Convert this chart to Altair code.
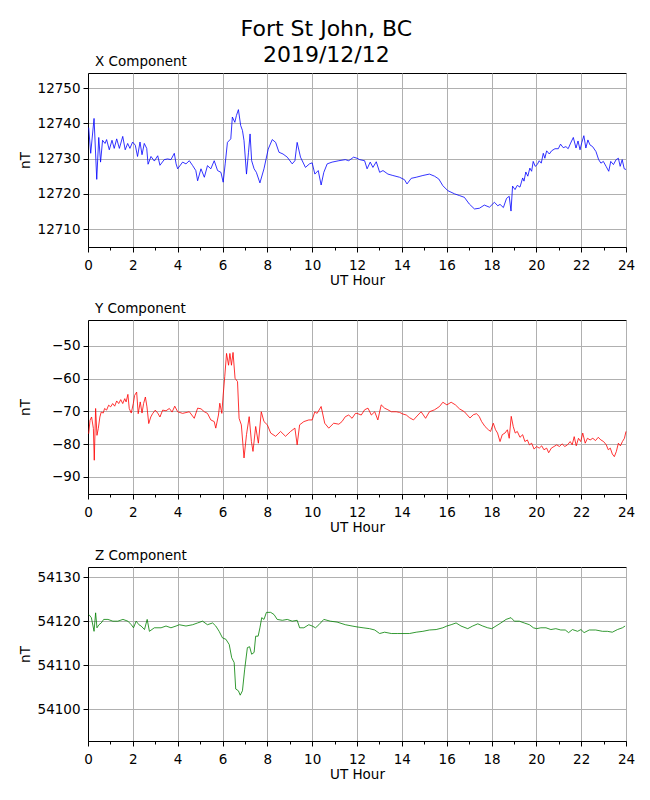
import altair as alt
import pandas as pd

# ---------------- data ----------------
x_hours = [0.03, 0.12, 0.27, 0.39, 0.48, 0.56, 0.65, 0.76, 0.83, 0.95, 1.07, 1.17, 1.28, 1.40, 1.55, 1.66,
           1.77, 1.87, 1.99, 2.11, 2.21, 2.32, 2.41, 2.51, 2.62, 2.68, 2.81, 2.96, 3.11, 3.21, 3.40, 3.55,
           3.70, 3.85, 3.93, 4.00, 4.22, 4.37, 4.52,
           4.67, 4.81, 4.89, 5.04, 5.19, 5.33, 5.48, 5.63, 5.78, 5.93, 6.03, 6.12, 6.22, 6.37, 6.44, 6.55,
           6.62, 6.71, 6.81, 6.89, 6.96, 7.07, 7.16, 7.23, 7.30, 7.41, 7.51, 7.67, 7.85, 8.04, 8.22, 8.37,
           8.52, 8.70, 8.89, 9.11, 9.23, 9.33, 9.48, 9.70, 9.88, 10.00, 10.12, 10.27, 10.40, 10.52, 10.67,
           10.89, 11.19, 11.48, 11.63, 11.85, 12.00, 12.12, 12.34, 12.45, 12.59, 12.71, 12.86, 13.01, 13.16,
           13.38, 13.60, 13.90, 14.12, 14.23, 14.42, 14.64, 14.94, 15.23, 15.46, 15.65, 15.83, 16.05, 16.35,
           16.57, 16.79, 17.01, 17.24, 17.46, 17.68, 17.91, 18.13, 18.28,
           18.38, 18.53, 18.67, 18.79, 18.87, 18.94, 19.05, 19.15, 19.27, 19.39, 19.45, 19.53, 19.62, 19.71,
           19.79, 19.86, 19.95, 20.04, 20.13, 20.22, 20.31, 20.38, 20.46, 20.58, 20.68, 20.83, 20.98, 21.08,
           21.20, 21.32, 21.42, 21.53, 21.65, 21.77, 21.86, 21.95, 22.03, 22.12, 22.21, 22.30, 22.39, 22.51,
           22.66, 22.78, 22.88, 22.99, 23.11, 23.23, 23.32, 23.44, 23.56, 23.66, 23.74, 23.83, 23.92, 24.00]
x_vals = [12738.8, 12731.5, 12741.4, 12724.1, 12736.0, 12729.0, 12735.2, 12734.3, 12735.4, 12732.5, 12735.2,
          12732.9, 12735.6, 12732.9, 12736.3, 12732.5, 12734.3, 12732.9, 12734.7, 12733.8, 12730.6, 12734.7,
          12731.1, 12734.3, 12732.9, 12728.4, 12730.6, 12729.3, 12730.8, 12728.1, 12729.7, 12729.9, 12729.7,
          12731.5, 12728.5, 12727.1, 12729.0, 12728.5, 12729.4,
          12728.0, 12726.6, 12723.7, 12727.1, 12724.7, 12728.0, 12727.1,
          12729.4, 12726.6, 12726.1, 12723.3, 12728.5, 12734.6, 12735.6, 12741.8, 12740.3, 12742.2, 12743.9,
          12739.4, 12738.0, 12735.1, 12725.6, 12731.8, 12737.0, 12729.4, 12727.1, 12726.1, 12723.1, 12727.1,
          12732.7, 12735.4, 12734.6, 12731.8, 12731.3, 12730.4, 12728.5, 12729.4, 12734.6, 12730.4, 12727.5,
          12728.5, 12728.8, 12725.6, 12726.6, 12722.5, 12726.1, 12728.5, 12729.0, 12729.4, 12729.7, 12729.4,
          12730.4, 12730.1, 12729.7, 12729.4, 12727.1, 12729.0, 12727.5, 12729.1, 12726.1, 12726.6, 12725.6,
          12725.2, 12724.7, 12724.0, 12722.8, 12724.4, 12724.7, 12725.2, 12725.6, 12725.0, 12724.2, 12722.3,
          12720.9, 12720.0, 12719.5, 12719.0, 12717.1, 12715.7, 12715.9, 12716.8, 12716.2, 12717.6, 12716.6,
          12717.0, 12716.1, 12718.7, 12719.3, 12715.1, 12722.2, 12721.2, 12722.4, 12721.9, 12724.5, 12723.6,
          12726.2, 12725.0, 12727.3, 12726.4, 12729.2, 12727.8, 12728.3, 12729.4, 12728.7, 12731.5, 12730.1,
          12732.2, 12731.3, 12732.2, 12732.8, 12732.8, 12734.1, 12733.1, 12733.4, 12732.8, 12734.4, 12736.0,
          12733.0, 12735.0, 12732.5, 12734.6, 12736.5, 12733.0, 12735.3, 12733.9, 12733.4, 12732.0, 12729.7,
          12728.7, 12729.2, 12727.8, 12726.4, 12729.2, 12728.3, 12729.7, 12730.1, 12727.8, 12729.7, 12727.1,
          12726.9]

y_hours = [0.03, 0.09, 0.16, 0.24, 0.28, 0.34, 0.40, 0.46, 0.53, 0.59, 0.68, 0.74, 0.83, 0.92, 1.01, 1.10,
           1.19, 1.28, 1.37, 1.46, 1.55, 1.64, 1.70, 1.78, 1.84, 1.93, 2.02, 2.08, 2.17, 2.24, 2.33, 2.41,
           2.48, 2.56, 2.63, 2.71, 2.80, 2.88, 3.00, 3.11, 3.21, 3.33, 3.48, 3.63, 3.75, 3.87,
           4.00, 4.22, 4.52, 4.74, 4.89, 5.04, 5.19, 5.33, 5.48, 5.63, 5.70, 5.82,
           5.88, 5.97, 6.03, 6.10, 6.18, 6.27, 6.33, 6.40, 6.47, 6.56, 6.67, 6.74, 6.84, 6.96, 7.07, 7.19,
           7.29, 7.36, 7.48, 7.60, 7.73, 7.85, 8.00, 8.15, 8.37, 8.59, 8.81, 9.04, 9.23, 9.33, 9.44, 9.63,
           9.85, 10.00, 10.12, 10.22, 10.40, 10.56, 10.74, 10.96, 11.19, 11.33, 11.48, 11.63, 11.78, 11.93,
           12.00, 12.19, 12.34, 12.49, 12.64, 12.79, 12.93, 13.08, 13.23, 13.38, 13.53, 13.75, 13.90, 14.05,
           14.20, 14.34, 14.52, 14.72, 14.86, 15.06, 15.23, 15.46, 15.68, 15.83, 16.01, 16.20, 16.39, 16.57,
           16.79,
           17.04, 17.19, 17.33, 17.45, 17.56, 17.71, 17.86, 17.96, 18.08, 18.18, 18.27, 18.38, 18.48, 18.60,
           18.71, 18.79, 18.88, 18.97, 19.06, 19.15, 19.27, 19.39, 19.49, 19.60, 19.69, 19.79, 19.90, 20.01,
           20.13, 20.24, 20.34, 20.46, 20.55, 20.67, 20.79, 20.91, 21.03, 21.15, 21.27, 21.39, 21.51, 21.60,
           21.69, 21.78, 21.88, 21.98, 22.07, 22.18, 22.28, 22.40, 22.52, 22.64, 22.76, 22.88, 23.00, 23.12,
           23.21, 23.30, 23.39, 23.48, 23.57, 23.66, 23.75, 23.84, 23.93, 24.00]
y_vals = [-76.8, -72.7, -71.7, -75.2, -84.9, -69.1, -77.3, -75.2, -71.7, -70.2, -70.5, -69.1, -69.6, -68.1,
          -68.6, -67.6, -68.4, -66.8, -67.6, -66.4, -67.6, -66.1, -67.1, -64.8, -69.1, -70.5, -67.6, -65.1,
          -64.1, -70.7, -67.1, -70.5, -67.6, -65.6, -68.6, -73.7, -71.7, -70.7, -69.6, -70.5, -71.7, -69.6,
          -69.8, -69.1, -70.2, -68.4,
          -70.1, -70.6, -70.1, -72.1, -69.0, -69.2, -70.1, -70.6, -72.6, -73.1, -75.1, -71.1,
          -67.5, -70.6, -65.0, -59.4, -52.3, -55.9, -52.3, -55.9,
          -52.0, -59.9, -60.9, -72.1, -74.1, -84.2, -77.1, -71.6, -79.2, -82.2, -74.6, -79.7, -70.1, -73.1,
          -74.1, -76.6, -77.6, -76.1, -77.6, -76.1, -75.1, -80.2, -74.1, -73.1, -72.6, -72.6, -70.1, -70.6,
          -68.5, -73.6, -75.1, -73.6, -73.9, -73.1, -71.6, -71.1, -72.1, -70.6,
          -70.6, -71.1, -69.5, -69.0, -71.1, -70.1, -72.6, -68.0, -69.0, -69.5, -70.1, -70.1, -70.3, -70.8,
          -71.1, -71.9, -72.6, -71.1, -70.1, -72.1, -70.1, -69.5, -68.5, -67.2, -68.0, -67.2, -68.0, -69.2,
          -70.1,
          -72.0, -71.0, -70.7, -71.5, -73.1, -74.6, -75.6, -76.1, -73.6, -75.6, -76.6, -79.2, -77.1, -76.6,
          -75.6, -78.2, -71.5, -74.6, -76.6, -76.1, -77.9, -77.1, -79.2, -78.7, -80.2, -79.7, -81.5, -80.7,
          -81.2, -80.5, -81.7, -81.2, -82.6, -81.2, -80.7, -80.2, -80.7, -79.9, -80.7, -80.2, -79.2, -80.2,
          -77.7, -80.5, -78.2, -79.2, -76.6, -79.7, -78.2, -78.7, -78.2, -78.9, -77.9, -78.7, -79.2, -80.2,
          -81.7, -81.2, -83.0, -83.8, -82.2, -79.7, -80.5, -79.2, -78.2, -76.1]

z_hours = [0.04, 0.15, 0.27, 0.34, 0.40, 0.49, 0.59, 0.70, 0.89, 1.11, 1.33, 1.56, 1.78, 1.93, 2.03, 2.15,
           2.27, 2.37, 2.52, 2.64, 2.74, 2.96, 3.26, 3.48, 3.70, 3.93, 4.07, 4.37, 4.67, 4.89, 5.11, 5.33,
           5.56, 5.70, 5.85, 6.00, 6.15, 6.30, 6.41, 6.52, 6.59, 6.71, 6.79, 6.89, 6.99, 7.11, 7.21, 7.30,
           7.41, 7.48, 7.59, 7.67, 7.75, 7.85, 7.96, 8.15, 8.30, 8.44, 8.67, 8.89, 9.11, 9.33, 9.44, 9.63,
           9.85, 10.00, 10.15, 10.30, 10.52, 10.81, 11.11, 11.48, 11.78,
           12.00, 12.27, 12.56, 12.79, 13.01, 13.23, 13.53, 13.82, 14.05, 14.34, 14.64, 14.94, 15.23, 15.53,
           15.83, 16.01, 16.20, 16.42, 16.64, 16.94, 17.16, 17.39, 17.61, 17.83, 18.01, 18.20, 18.42, 18.65,
           18.87, 19.02, 19.24, 19.46, 19.69, 19.87, 20.01, 20.20, 20.43, 20.65, 20.87, 21.09, 21.29, 21.44,
           21.61, 21.84, 21.99, 22.13, 22.36, 22.65, 22.95, 23.17, 23.39, 23.62, 23.84, 23.96]
z_vals = [54121.5, 54120.8, 54117.7, 54121.9, 54118.5, 54119.2, 54119.6, 54120.4, 54120.4, 54120.0, 54120.0,
          54120.4, 54120.0, 54119.2, 54118.5, 54120.0, 54119.2, 54118.9, 54118.1, 54120.4, 54117.7, 54118.5,
          54118.5, 54118.9, 54118.5, 54118.9, 54119.2, 54118.9, 54119.2, 54119.6, 54120.0, 54119.2, 54119.6,
          54118.9, 54117.7, 54116.2, 54115.9, 54114.7, 54111.7, 54110.6, 54104.6, 54104.2, 54103.2, 54104.2,
          54109.1, 54114.0, 54114.2, 54112.5, 54112.9, 54116.6, 54116.6, 54118.5, 54120.8, 54120.4, 54122.0,
          54122.0, 54121.5, 54120.4, 54120.2, 54120.4, 54120.0, 54120.2, 54118.5, 54118.5, 54119.2, 54118.9,
          54118.5, 54119.2, 54120.4, 54120.0, 54119.8, 54119.2, 54118.9,
          54118.7, 54118.5, 54118.3, 54118.0, 54117.2, 54117.5, 54117.2, 54117.2, 54117.2, 54117.2, 54117.5,
          54117.7, 54118.0, 54118.1, 54118.5, 54118.9, 54119.2, 54119.6, 54118.9, 54118.3, 54118.9, 54119.4,
          54118.9, 54118.5, 54118.3, 54118.9, 54119.6, 54120.4, 54120.8, 54120.0, 54120.0, 54119.6, 54119.2,
          54118.5, 54118.3, 54118.5, 54118.5, 54118.1, 54118.3, 54118.0, 54118.0, 54117.4, 54118.1, 54117.7,
          54118.1, 54117.4, 54118.0, 54118.0, 54117.7, 54117.7, 54117.5, 54118.1, 54118.5, 54118.9]

panel_titles = ["X Component", "Y Component", "Z Component"]
x_ticks = [12710, 12720, 12730, 12740, 12750]
y_ticks = [-90, -80, -70, -60, -50]
z_ticks = [54100, 54110, 54120, 54130]
hour_ticks = list(range(0, 25))

FONT = "DejaVu Sans"


def panel(hours, vals, color, title, domain, ticks):
    df = pd.DataFrame({"hour": hours, "nT": vals})
    return (
        alt.Chart(df, title=alt.TitleParams(title, anchor="start", frame="group", fontSize=13.5, font=FONT,
                                            fontWeight="normal", color="black", dx=7, offset=5))
        .mark_line(color=color, strokeWidth=0.8)
        .encode(
            x=alt.X("hour:Q",
                    scale=alt.Scale(domain=[0, 24], nice=False, zero=False),
                    axis=alt.Axis(values=hour_ticks, title="UT Hour",
                                  labelExpr="datum.value % 2 == 0 ? datum.label : ''",
                                  tickSize={"condition": {"test": "datum.value % 2 == 0", "value": 5}, "value": 3},
                                  gridOpacity={"condition": {"test": "datum.value % 2 == 0", "value": 1}, "value": 0},
                                  labelFlush=False, labelPadding=6, titlePadding=2)),
            y=alt.Y("nT:Q",
                    scale=alt.Scale(domain=domain, nice=False, zero=False),
                    axis=alt.Axis(values=ticks, title="nT", format="d", tickSize=5,
                                  minExtent=52, maxExtent=52)),
        )
        .properties(width=538, height=174)
    )


chart = alt.vconcat(
    panel(x_hours, x_vals, "#0000ff", panel_titles[0], [12704.9, 12754.3], x_ticks),
    panel(y_hours, y_vals, "#ff0000", panel_titles[1], [-95.2, -42.1], y_ticks),
    panel(z_hours, z_vals, "#008000", panel_titles[2], [54092.8, 54132.3], z_ticks),
    spacing=13,
).properties(
    title=alt.TitleParams(["Fort St John, BC", "2019/12/12"], fontSize=22, font=FONT,
                          fontWeight="normal", color="black", anchor="middle", lineHeight=26, offset=-13),
    padding={"left": 9, "top": 10, "right": 5, "bottom": 5},
).configure_view(
    stroke="black", strokeWidth=1
).configure_axis(
    labelFont=FONT, labelFontSize=13.5, labelColor="black",
    titleFont=FONT, titleFontSize=13.5, titleFontWeight="normal", titleColor="black",
    domainColor="black", tickColor="black", gridColor="#b0b0b0", gridWidth=1,
    labelPadding=3, titlePadding=4,
)

chart.save("out.html", embed_options={"renderer": "svg", "actions": False})
